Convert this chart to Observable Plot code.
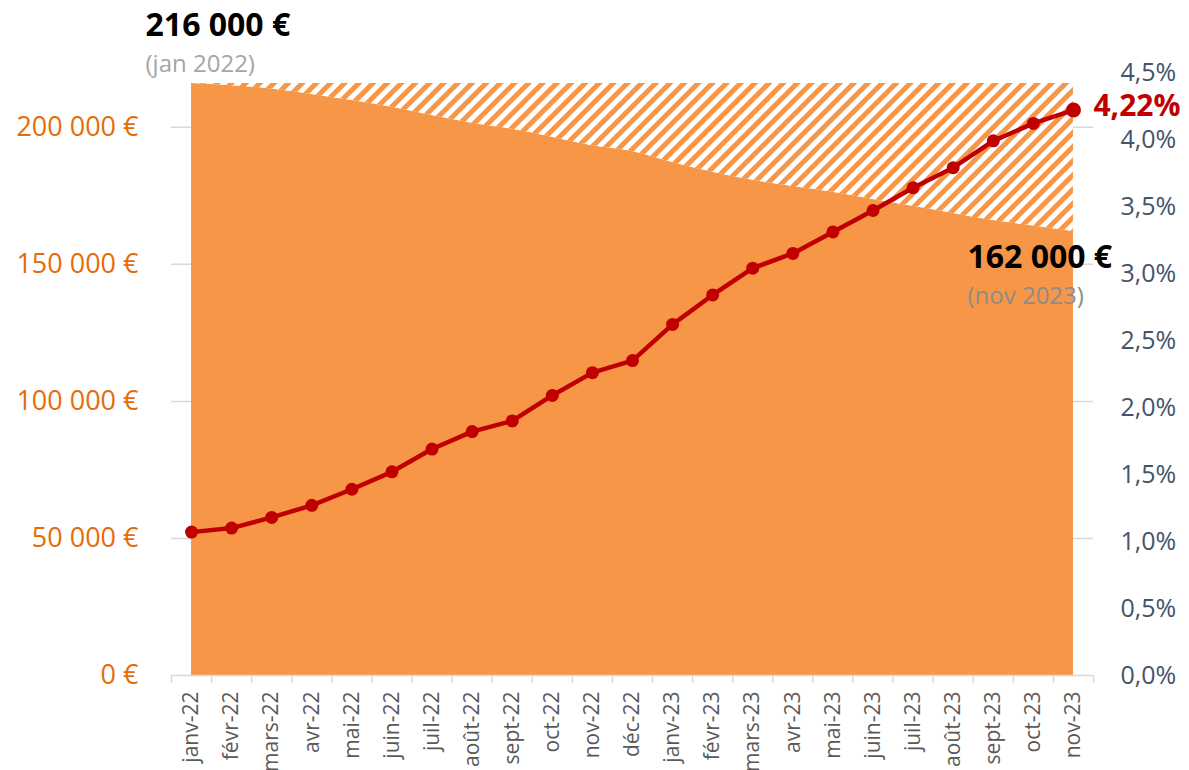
<!DOCTYPE html>
<html><head><meta charset="utf-8">
<script src="https://cdn.jsdelivr.net/npm/d3@7"></script>
<script src="https://cdn.jsdelivr.net/npm/@observablehq/plot@0.6"></script>
<style>body{margin:0;background:#fff;font-family:"Open Sans",sans-serif}</style>
</head><body><div id="chart"></div>
<script>
const months = ["janv-22","févr-22","mars-22","avr-22","mai-22","juin-22","juil-22","août-22","sept-22","oct-22","nov-22","déc-22","janv-23","févr-23","mars-23","avr-23","mai-23","juin-23","juil-23","août-23","sept-23","oct-23","nov-23"];
const prices = [216000,215200,214000,212000,209800,207300,204300,201500,199300,196400,193300,191200,187200,183600,180700,178400,176300,173700,171200,168600,166000,164000,162000];
const rates = [1.07,1.10,1.18,1.27,1.39,1.52,1.69,1.82,1.90,2.09,2.26,2.35,2.62,2.84,3.04,3.15,3.31,3.47,3.64,3.79,3.99,4.12,4.22];
const leftTicks = [0,50000,100000,150000,200000];
const rightTicks = [0,0.5,1,1.5,2,2.5,3,3.5,4,4.5];
const firstDateLabel = "(jan 2022)";
const lastDateLabel = "(nov 2023)";

const Y_MAX = 220000, R_MAX = 4.5, K = Y_MAX / R_MAX;
const data = months.map((m, i) => ({i, month: m, price: prices[i], rate: rates[i], rateY: rates[i] * K}));
const first = data[0], last = data[data.length - 1];
const fmtEur = v => d3.format(",")(v).replace(/,/g, " ") + " €";
const fmtPct = v => (v / K).toFixed(1).replace(".", ",") + "%";

const plot = Plot.plot({
  width: 1189, height: 770,
  marginLeft: 171, marginRight: 96, marginTop: 72, marginBottom: 95,
  style: {fontFamily: "'Open Sans', sans-serif", background: "white", overflow: "visible"},
  x: {type: "linear", domain: [-0.5, months.length - 0.5]},
  y: {domain: [0, Y_MAX]},
  marks: [
    Plot.gridY(leftTicks.slice(1), {stroke: "#D9D9D9", strokeOpacity: 1, strokeWidth: 1.5}),
    Plot.areaY(data, {x: "i", y1: 0, y2: "price", fill: "#F79646", curve: "monotone-x"}),
    Plot.areaY(data, {x: "i", y1: "price", y2: () => first.price, fill: "url(#hatch)", curve: "monotone-x"}),
    Plot.ruleY([0], {stroke: "#D9D9D9", strokeWidth: 1.5}),
    Plot.axisX(d3.range(months.length + 1).map(i => i - 0.5), {tickSize: 8, tickFormat: () => "", stroke: "#D9D9D9", strokeWidth: 1.5, label: null}),
    Plot.axisX(d3.range(months.length), {tickSize: 0, tickPadding: 16, tickRotate: -90, tickFormat: i => months[i], fontSize: 21, color: "#595959", label: null}),
    Plot.axisY(leftTicks, {anchor: "left", tickSize: 0, tickPadding: 33, tickFormat: fmtEur, fontSize: 27, color: "#E46C0A", label: null}),
    Plot.axisY(rightTicks.map(r => r * K), {anchor: "right", tickSize: 0, tickPadding: 27, tickFormat: fmtPct, fontSize: 25, color: "#44546A", label: null}),
    Plot.line(data, {x: "i", y: "rateY", stroke: "#C00000", strokeWidth: 4.5}),
    Plot.dot(data.slice(0, -1), {x: "i", y: "rateY", r: 6.5, fill: "#C00000"}),
    Plot.dot([last], {x: "i", y: "rateY", r: 7.5, fill: "#C00000"}),
    Plot.text([first], {x: "i", y: "price", text: d => fmtEur(d.price), dx: -46, dy: -58, textAnchor: "start", fontSize: 32, fontWeight: "bold", fill: "black"}),
    Plot.text([first], {x: "i", y: "price", text: () => firstDateLabel, dx: -46, dy: -19, textAnchor: "start", fontSize: 24, fill: "#A6A6A6"}),
    Plot.text([last], {x: "i", y: "price", text: d => fmtEur(d.price), dx: -106, dy: 26, textAnchor: "start", fontSize: 32, fontWeight: "bold", fill: "black"}),
    Plot.text([last], {x: "i", y: "price", text: () => lastDateLabel, dx: -106, dy: 65, textAnchor: "start", fontSize: 24, fill: "#8C8C8C"}),
    Plot.text([last], {x: "i", y: "rateY", text: d => d.rate.toFixed(2).replace(".", ",") + "%", dx: 20, dy: -4, textAnchor: "start", fontSize: 30, fontWeight: "bold", fill: "#C00000"})
  ]
});
const ns = "http://www.w3.org/2000/svg";
const defs = document.createElementNS(ns, "defs");
defs.innerHTML = `<pattern id="hatch" patternUnits="userSpaceOnUse" width="10" height="10" patternTransform="rotate(45)"><rect width="10" height="10" fill="white"/><rect width="5" height="10" fill="#F79646"/></pattern>`;
plot.insertBefore(defs, plot.firstChild);
document.getElementById("chart").appendChild(plot);
</script>
</body></html>
